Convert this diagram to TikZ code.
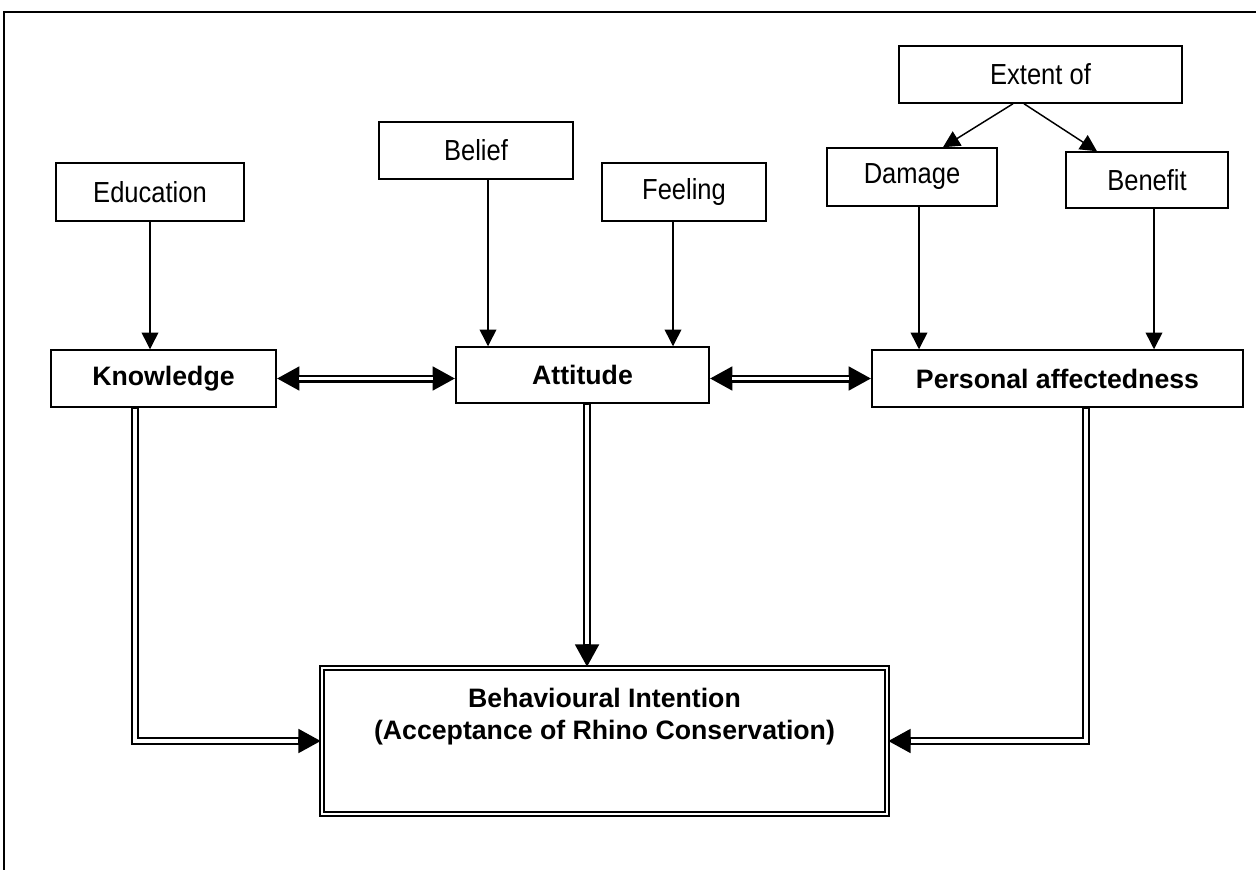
\documentclass[tikz,border=0pt]{standalone}
\usepackage{fontspec}
\setmainfont{Liberation Sans}
\newfontfamily\narrowfont[FakeStretch=0.88]{Liberation Sans}
\usetikzlibrary{arrows.meta,calc}
\begin{document}
\begin{tikzpicture}[x=0.75pt,y=-0.75pt,
  box/.style={draw, line width=1.1pt, inner sep=0pt, align=center,
    font=\narrowfont\fontsize{21.75}{26}\selectfont},
  bbox/.style={draw, line width=1.1pt, inner sep=0pt, align=center,
    font=\bfseries\fontsize{20}{24}\selectfont},
  arr/.style={line width=1.1pt, -{Triangle[length=12.5pt,width=12.5pt]}},
  dblout/.style={line width=6pt},
  dblin/.style={white, line width=2.4pt, shorten <=0.7pt},
  tipB/.style={-{Triangle[length=17pt,width=17pt]}},
  tipBB/.style={{Triangle[length=17pt,width=17pt]}-{Triangle[length=17pt,width=17pt]}},
  ]
\useasboundingbox (0,0) rectangle (1256,870);
% outer frame
\coordinate (fbl) at (4,872);
\coordinate (ftl) at (4,12);
\coordinate (ftr) at (1258,12);
\draw[line width=1.5pt] (fbl) -- (ftl) -- (ftr);

% nodes
\node[box, minimum width=212.25pt, minimum height=42.75pt] (ext) at (1040.5,74.5) {Extent of};
\node[box, minimum width=127.5pt, minimum height=43.5pt] (dam) at (912,177) {Damage};
\node[box, minimum width=121.5pt, minimum height=42pt] (ben) at (1147,180) {Benefit};
\node[box, minimum width=145.5pt, minimum height=42.75pt] (bel) at (476,150.5) {Belief};
\node[box, minimum width=123pt, minimum height=43.5pt] (fee) at (684,192) {Feeling};
\node[box, minimum width=141pt, minimum height=43.5pt] (edu) at (150,192) {Education};
\node[bbox, minimum width=168.75pt, minimum height=42.75pt] (kn) at (163.5,378.5) {Knowledge};
\node[bbox, minimum width=189.75pt, minimum height=42pt] (att) at (582.5,375) {Attitude};
\node[bbox, minimum width=278.25pt, minimum height=42.75pt] (per) at (1057.5,378.5) {Personal affectedness};
\node[bbox, double, line width=1.4pt, double distance=1.3pt,
      minimum width=423.75pt, minimum height=109.5pt] (bi) at (604.5,741)
  {Behavioural Intention\\(Acceptance of Rhino Conservation)\\[17pt]\mbox{}};

% single arrows
\draw[arr] (edu.south) -- (edu.south |- kn.north);
\draw[arr] ([xshift=9pt]bel.south) -- ([xshift=9pt]bel.south |- att.north);
\draw[arr] ([xshift=-8.25pt]fee.south) -- ([xshift=-8.25pt]fee.south |- att.north);
\draw[arr] ([xshift=5.25pt]dam.south) -- ([xshift=5.25pt]dam.south |- per.north);
\draw[arr] ([xshift=5.25pt]ben.south) -- ([xshift=5.25pt]ben.south |- per.north);
\draw[arr] ([xshift=-20.6pt]ext.south) -- ([xshift=23.25pt]dam.north);
\draw[arr] ([xshift=-12.4pt]ext.south) -- ([xshift=-37.5pt]ben.north);

% double arrows (black body, white core)
\draw[dblout, tipBB] (kn.east) -- (kn.east -| att.west);
\draw[dblin, shorten <=17pt, shorten >=17pt] (kn.east) -- (kn.east -| att.west);
\draw[dblout, tipBB] (att.east |- per.west) -- (per.west);
\draw[dblin, shorten <=17pt, shorten >=17pt] (att.east |- per.west) -- (per.west);

\draw[dblout, tipB] ([xshift=-21.4pt]kn.south) |- (bi.west);
\draw[dblin, shorten >=17pt] ([xshift=-21.4pt]kn.south) |- (bi.west);
\draw[dblout, tipB] ([xshift=3.4pt]att.south) -- ([xshift=3.4pt]att.south |- bi.north);
\draw[dblin, shorten >=17pt] ([xshift=3.4pt]att.south) -- ([xshift=3.4pt]att.south |- bi.north);
\draw[dblout, tipB] ([xshift=21.4pt]per.south) |- (bi.east);
\draw[dblin, shorten >=17pt] ([xshift=21.4pt]per.south) |- (bi.east);
\end{tikzpicture}
\end{document}
